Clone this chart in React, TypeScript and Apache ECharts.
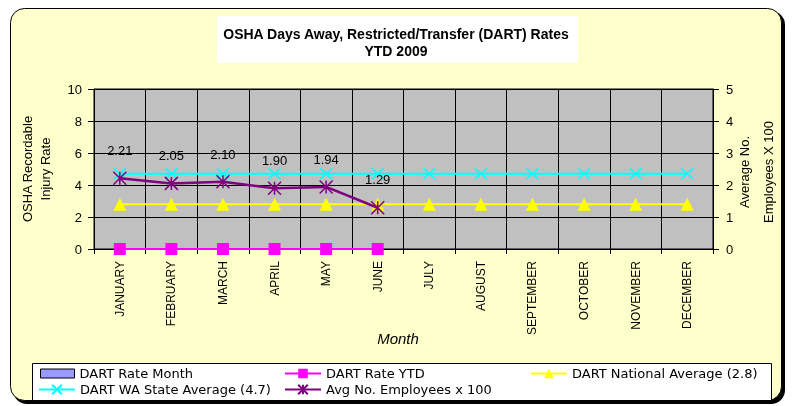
import React, { useEffect, useRef } from "react";
import * as echarts from "echarts";

const months = ["JANUARY", "FEBRUARY", "MARCH", "APRIL", "MAY", "JUNE", "JULY", "AUGUST", "SEPTEMBER", "OCTOBER", "NOVEMBER", "DECEMBER"];
const dartRateMonth = [0, 0, 0, 0, 0, 0];
const dartRateYtd = [0, 0, 0, 0, 0, 0];
const nationalAvg = [2.8, 2.8, 2.8, 2.8, 2.8, 2.8, 2.8, 2.8, 2.8, 2.8, 2.8, 2.8];
const stateAvg = [4.7, 4.7, 4.7, 4.7, 4.7, 4.7, 4.7, 4.7, 4.7, 4.7, 4.7, 4.7];
const avgEmployees = [2.21, 2.05, 2.1, 1.9, 1.94, 1.29];
const leftTicks = { min: 0, max: 10, interval: 2 };
const rightTicks = { min: 0, max: 5, interval: 1 };

const AR = "Liberation Sans, Arial, sans-serif";
const LG = "DejaVu Sans, Verdana, sans-serif";

const X_SYM = "path://M0,0L10,10M10,0L0,10";
const STAR_SYM = "path://M0,0L10,10M10,0L0,10M5,0L5,10";

export default function App() {
  const ref = useRef<HTMLDivElement>(null);
  useEffect(() => {
    const chart = echarts.init(ref.current!, undefined, { renderer: "svg" });
    const legendBase = {
      orient: "horizontal",
      padding: 0,
      itemHeight: 12,
      itemWidth: 36,
      textStyle: { fontFamily: LG, fontSize: 13, color: "#000" },
      selectedMode: false,
    };
    chart.setOption({
      animation: false,
      title: {
        text: "OSHA Days Away, Restricted/Transfer (DART) Rates\nYTD 2009",
        left: "center",
        top: 20,
        textStyle: { fontFamily: AR, fontSize: 14, fontWeight: "bold", color: "#000", lineHeight: 17 },
      },
      graphic: [
        { type: "rect", z: -10, shape: { x: 13, y: 11, width: 772, height: 393, r: 14 }, style: { fill: "#000" } },
        { type: "rect", z: -9, shape: { x: 10.5, y: 8.5, width: 771, height: 392, r: 14 }, style: { fill: "#FFFFCC", stroke: "#000", lineWidth: 1 } },
        { type: "rect", z: -8, shape: { x: 217, y: 16, width: 361, height: 47 }, style: { fill: "#fff" } },
        { type: "rect", z: -8, shape: { x: 32.5, y: 363.5, width: 739, height: 37 }, style: { fill: "#fff", stroke: "#000", lineWidth: 1 } },
        { type: "text", x: 27, y: 169, rotation: Math.PI / 2, style: { text: "OSHA Recordable", font: `13px ${AR}`, fill: "#000", align: "center", verticalAlign: "middle" } },
        { type: "text", x: 45, y: 169, rotation: Math.PI / 2, style: { text: "Injury Rate", font: `13px ${AR}`, fill: "#000", align: "center", verticalAlign: "middle" } },
        { type: "text", x: 744, y: 172, rotation: Math.PI / 2, style: { text: "Average No.", font: `13px ${AR}`, fill: "#000", align: "center", verticalAlign: "middle" } },
        { type: "text", x: 768, y: 172, rotation: Math.PI / 2, style: { text: "Employees X 100", font: `13px ${AR}`, fill: "#000", align: "center", verticalAlign: "middle" } },
        { type: "text", x: 398, y: 338, style: { text: "Month", font: `italic 15px ${AR}`, fill: "#000", align: "center", verticalAlign: "middle" } },
      ],
      legend: [
        { ...legendBase, left: 40, top: 367, itemWidth: 34, itemHeight: 9, data: [{ name: "DART Rate Month", icon: "rect", itemStyle: { color: "#9999FF", borderColor: "#000", borderWidth: 1 } }] },
        { ...legendBase, left: 284, top: 367, data: ["DART Rate YTD"] },
        { ...legendBase, left: 530, top: 367, data: ["DART National Average (2.8)"] },
        { ...legendBase, left: 38, top: 383, data: ["DART WA State Average (4.7)"] },
        { ...legendBase, left: 284, top: 383, data: ["Avg No. Employees x 100"] },
      ],
      grid: {
        left: 94, top: 89, width: 619, height: 160,
        show: true, backgroundColor: "#C0C0C0", borderColor: "#000", borderWidth: 1,
      },
      xAxis: {
        type: "category",
        data: months,
        boundaryGap: true,
        axisLine: { show: true, lineStyle: { color: "#000", width: 1 } },
        axisTick: { show: true, length: 5, lineStyle: { color: "#000" } },
        splitLine: { show: true, lineStyle: { color: "#000", width: 1 } },
        axisLabel: { rotate: 90, margin: 12, fontFamily: AR, fontSize: 12, color: "#000", interval: 0 },
      },
      yAxis: [
        {
          type: "value", position: "left", ...leftTicks,
          axisLine: { show: true, lineStyle: { color: "#000" } },
          axisTick: { show: true, length: 6, lineStyle: { color: "#000" } },
          splitLine: { show: true, lineStyle: { color: "#000", width: 1 } },
          axisLabel: { margin: 12, fontFamily: AR, fontSize: 13, color: "#000" },
        },
        {
          type: "value", position: "right", ...rightTicks,
          axisLine: { show: true, lineStyle: { color: "#000" } },
          axisTick: { show: true, length: 6, lineStyle: { color: "#000" } },
          splitLine: { show: false },
          axisLabel: { margin: 13, fontFamily: AR, fontSize: 13, color: "#000" },
        },
      ],
      series: [
        {
          name: "DART Rate Month", type: "bar", yAxisIndex: 0, data: dartRateMonth,
          itemStyle: { color: "#9999FF" }, barWidth: "50%",
        },
        {
          name: "DART Rate YTD", type: "line", yAxisIndex: 0, data: dartRateYtd,
          symbol: "rect", symbolSize: 12, lineStyle: { color: "#FF00FF", width: 2 },
          itemStyle: { color: "#FF00FF" }, z: 5,
        },
        {
          name: "DART National Average (2.8)", type: "line", yAxisIndex: 0, data: nationalAvg,
          symbol: "triangle", symbolSize: [13, 13], lineStyle: { color: "#FFFF00", width: 2 },
          itemStyle: { color: "#FFFF00" }, z: 3,
        },
        {
          name: "DART WA State Average (4.7)", type: "line", yAxisIndex: 0, data: stateAvg,
          symbol: X_SYM, symbolSize: [12, 11], lineStyle: { color: "#00FFFF", width: 2 },
          itemStyle: { color: "#00FFFF", borderColor: "#00FFFF", borderWidth: 1.5 }, z: 3,
        },
        {
          name: "Avg No. Employees x 100", type: "line", yAxisIndex: 1, data: avgEmployees,
          symbol: STAR_SYM, symbolSize: [13, 13], lineStyle: { color: "#800080", width: 2.5 },
          itemStyle: { color: "#800080", borderColor: "#800080", borderWidth: 1.5 }, z: 6,
          label: {
            show: true, position: "top", distance: 14, color: "#000", fontFamily: AR, fontSize: 13,
            formatter: (p: any) => Number(p.value).toFixed(2),
          },
        },
      ],
    });
    return () => chart.dispose();
  }, []);
  return <div ref={ref} style={{ position: "fixed", left: 0, top: 0, width: 792, height: 406 }} />;
}
